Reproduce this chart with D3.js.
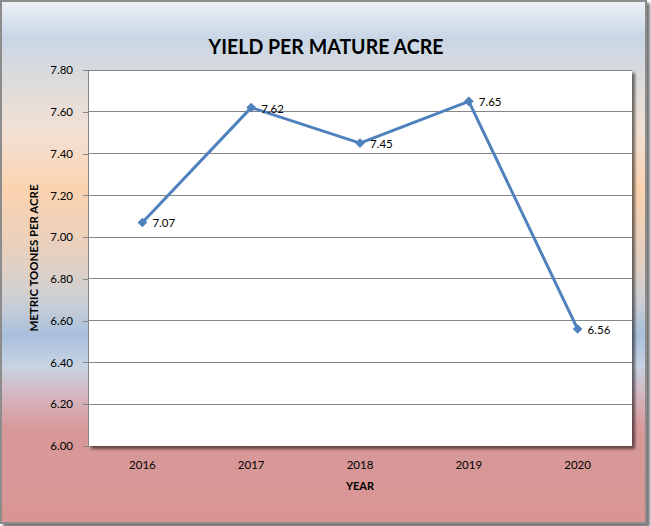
<!DOCTYPE html>
<html>
<head>
<meta charset="utf-8">
<script src="https://cdn.jsdelivr.net/npm/d3@7/dist/d3.min.js"></script>
<style>
  body { margin: 0; background: #fff; }
  text { font-family: Lato, "Open Sans", sans-serif; fill: #000; }
</style>
</head>
<body>
<svg id="chart" width="651" height="526"></svg>
<script>
// chart data
const years = ["2016", "2017", "2018", "2019", "2020"];
const yieldValues = [7.07, 7.62, 7.45, 7.65, 6.56];
const yTicks = [6.0, 6.2, 6.4, 6.6, 6.8, 7.0, 7.2, 7.4, 7.6, 7.8];

const svg = d3.select("#chart");
const plot = { left: 88, right: 632, top: 70, bottom: 446 };

const defs = svg.append("defs");

// background gradient (top to bottom)
const bg = defs.append("linearGradient")
    .attr("id", "bg").attr("x1", 0).attr("y1", 0).attr("x2", 0).attr("y2", 1);
[
    [0, "#eef2f8"], [0.07, "#c9d6e6"], [0.16, "#dedcda"], [0.25, "#f2e0d4"],
    [0.36, "#fbd3b0"], [0.49, "#e5d0c0"], [0.57, "#cfd0d4"], [0.64, "#a9c0dc"],
    [0.7, "#c8d3e3"], [0.76, "#d5b4bc"], [0.82, "#d8999a"], [1, "#d99594"]
].forEach(s => bg.append("stop").attr("offset", s[0]).attr("stop-color", s[1]));

const shadow = defs.append("filter").attr("id", "shadow")
    .attr("x", "-5%").attr("y", "-5%").attr("width", "115%").attr("height", "115%");
shadow.append("feDropShadow")
    .attr("dx", 3).attr("dy", 3).attr("stdDeviation", 1.8)
    .attr("flood-color", "#000").attr("flood-opacity", 0.55);

// outer frame
svg.append("rect")
    .attr("x", 1).attr("y", 1).attr("width", 645).attr("height", 522)
    .attr("fill", "url(#bg)")
    .attr("stroke", "#8c8c8c").attr("stroke-width", 2)
    .attr("filter", "url(#shadow)");

// plot area
svg.append("rect")
    .attr("x", plot.left).attr("y", plot.top)
    .attr("width", plot.right - plot.left).attr("height", plot.bottom - plot.top)
    .attr("fill", "#fff")
    .attr("filter", "url(#shadow)");

const x = d3.scalePoint().domain(years).range([plot.left, plot.right]).padding(0.5);
const y = d3.scaleLinear().domain([6.0, 7.8]).range([plot.bottom, plot.top]);

// gridlines
svg.append("g").selectAll("line")
    .data(yTicks.filter(t => t > 6.0))
    .join("line")
    .attr("x1", plot.left).attr("x2", plot.right)
    .attr("y1", d => y(d)).attr("y2", d => y(d))
    .attr("stroke", "#868686").attr("stroke-width", 1)
    .attr("shape-rendering", "crispEdges");

// y axis
const yAxis = svg.append("g")
    .attr("transform", `translate(${plot.left},0)`)
    .call(d3.axisLeft(y).tickValues(yTicks).tickFormat(d3.format(".2f"))
        .tickSize(5).tickPadding(10));
yAxis.select(".domain").attr("stroke", "#868686").attr("shape-rendering", "crispEdges");
yAxis.selectAll(".tick line").attr("stroke", "#868686").attr("shape-rendering", "crispEdges");
yAxis.selectAll("text").attr("font-size", 11.5).attr("fill", "#000")
    .attr("font-family", "Lato, sans-serif");

// x axis labels
svg.append("g").selectAll("text")
    .data(years)
    .join("text")
    .attr("x", d => x(d)).attr("y", 469)
    .attr("text-anchor", "middle")
    .attr("font-size", 11.5)
    .text(d => d);

// series line
const pts = years.map((yr, i) => ({ year: yr, value: yieldValues[i] }));
svg.append("path")
    .datum(pts)
    .attr("fill", "none")
    .attr("stroke", "#4f81bd")
    .attr("stroke-width", 3)
    .attr("stroke-linejoin", "round")
    .attr("d", d3.line().x(d => x(d.year)).y(d => y(d.value)));

// diamond markers
svg.append("g").selectAll("path")
    .data(pts)
    .join("path")
    .attr("transform", d => `translate(${x(d.year)},${y(d.value)})`)
    .attr("d", d3.symbol(d3.symbolDiamond2, 60))
    .attr("fill", "#4f81bd");

// data labels
svg.append("g").selectAll("text")
    .data(pts)
    .join("text")
    .attr("x", d => x(d.year) + 10).attr("y", d => y(d.value) + 5)
    .attr("font-size", 11.5)
    .text(d => d3.format(".2f")(d.value));

// title
svg.append("text")
    .attr("x", 326).attr("y", 54)
    .attr("text-anchor", "middle")
    .attr("font-size", 20).attr("font-weight", "bold")
    .attr("textLength", 235).attr("lengthAdjust", "spacingAndGlyphs")
    .text("YIELD PER MATURE ACRE");

// axis titles
svg.append("text")
    .attr("x", 360).attr("y", 490)
    .attr("text-anchor", "middle")
    .attr("font-size", 11).attr("font-weight", "bold")
    .text("YEAR");

svg.append("text")
    .attr("transform", `translate(38,${(plot.top + plot.bottom) / 2}) rotate(-90)`)
    .attr("text-anchor", "middle")
    .attr("font-size", 11).attr("font-weight", "bold")
    .attr("textLength", 147).attr("lengthAdjust", "spacingAndGlyphs")
    .text("METRIC TOONES PER ACRE");
</script>
</body>
</html>
